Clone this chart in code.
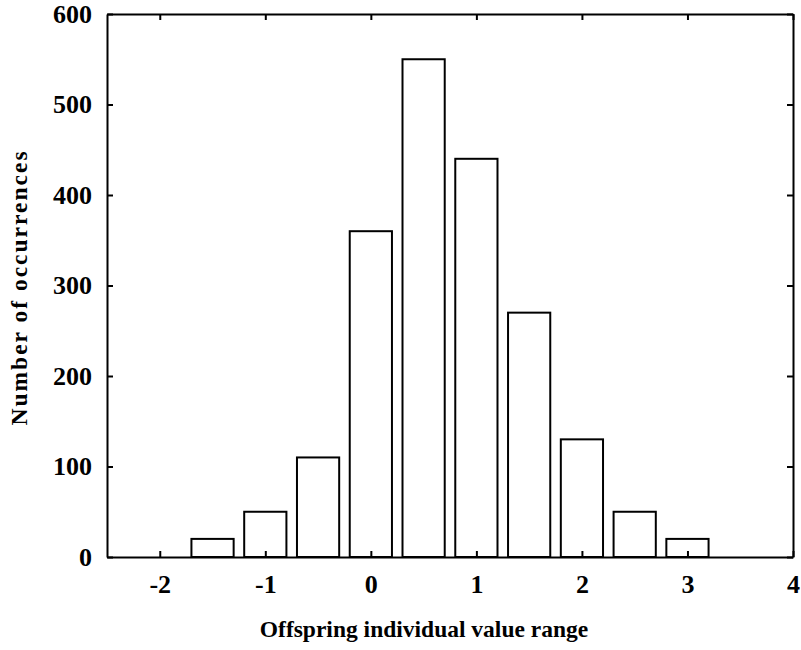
<html>
  <head>
    <meta charset="utf-8" />
    <style>
      body {
        margin: 0;
        background: #fff;
      }
      svg {
        font-family: "Liberation Serif", "Times New Roman", serif;
        font-weight: bold;
      }
      .bar {
        fill: #fff;
        stroke: #000;
        stroke-width: 2;
      }
      .axis path,
      .axis line {
        stroke: #000;
        stroke-width: 2;
      }
      .axis text {
        font-family: "Liberation Serif", serif;
        font-weight: bold;
        fill: #000;
      }
      .x-axis text {
        font-size: 26px;
      }
      .y-axis text {
        font-size: 26px;
      }
      .axis-title {
        font-size: 23.5px;
        fill: #000;
      }
    </style>
  </head>
  <body>
    <script src="https://d3js.org/d3.v7.min.js"></script>
    <script>
      // bin centres and counts
      const binCenters = [-1.5, -1, -0.5, 0, 0.5, 1, 1.5, 2, 2.5, 3];
      const counts = [20, 50, 110, 360, 550, 440, 270, 130, 50, 20];
      const xTicks = [-2, -1, 0, 1, 2, 3, 4];
      const yTicks = [0, 100, 200, 300, 400, 500, 600];
      const binWidth = 0.4;

      const width = 801,
        height = 650;
      const margin = { top: 14, right: 8, bottom: 93, left: 107 };

      const svg = d3
        .select("body")
        .append("svg")
        .attr("width", width)
        .attr("height", height);

      const x = d3
        .scaleLinear()
        .domain([-2.5, 4])
        .range([margin.left, width - margin.right]);
      const y = d3
        .scaleLinear()
        .domain([0, 600])
        .range([height - margin.bottom, margin.top]);

      // bars
      svg
        .append("g")
        .selectAll("rect")
        .data(counts)
        .join("rect")
        .attr("class", "bar")
        .attr("x", (d, i) => x(binCenters[i] - binWidth / 2))
        .attr("y", (d) => y(d))
        .attr("width", x(binWidth) - x(0))
        .attr("height", (d) => y(0) - y(d));

      // bottom axis (ticks point inward)
      svg
        .append("g")
        .attr("class", "axis x-axis")
        .attr("transform", `translate(0,${y(0)})`)
        .call(
          d3
            .axisBottom(x)
            .tickValues(xTicks)
            .tickSizeInner(-6)
            .tickSizeOuter(0)
            .tickPadding(18)
            .tickFormat((d) => String(d))
        );

      // top axis, ticks only
      svg
        .append("g")
        .attr("class", "axis")
        .attr("transform", `translate(0,${y(600)})`)
        .call(
          d3
            .axisTop(x)
            .tickValues(xTicks)
            .tickSizeInner(-6)
            .tickSizeOuter(0)
            .tickFormat("")
        );

      // left axis
      svg
        .append("g")
        .attr("class", "axis y-axis")
        .attr("transform", `translate(${x(-2.5)},0)`)
        .call(
          d3
            .axisLeft(y)
            .tickValues(yTicks)
            .tickSizeInner(-6)
            .tickSizeOuter(0)
            .tickPadding(15)
            .tickFormat((d) => String(d))
        );

      // right axis, ticks only
      svg
        .append("g")
        .attr("class", "axis")
        .attr("transform", `translate(${x(4)},0)`)
        .call(
          d3
            .axisRight(y)
            .tickValues(yTicks)
            .tickSizeInner(-6)
            .tickSizeOuter(0)
            .tickFormat("")
        );

      svg
        .append("text")
        .attr("class", "axis-title")
        .attr("x", 424)
        .attr("y", 637)
        .attr("text-anchor", "middle")
        .text("Offspring individual value range");

      svg
        .append("text")
        .attr("class", "axis-title")
        .attr("transform", `translate(27,${(y(0) + y(600)) / 2 + 2}) rotate(-90)`)
        .attr("text-anchor", "middle")
        .attr("letter-spacing", "2px")
        .text("Number of occurrences");
    </script>
  </body>
</html>
